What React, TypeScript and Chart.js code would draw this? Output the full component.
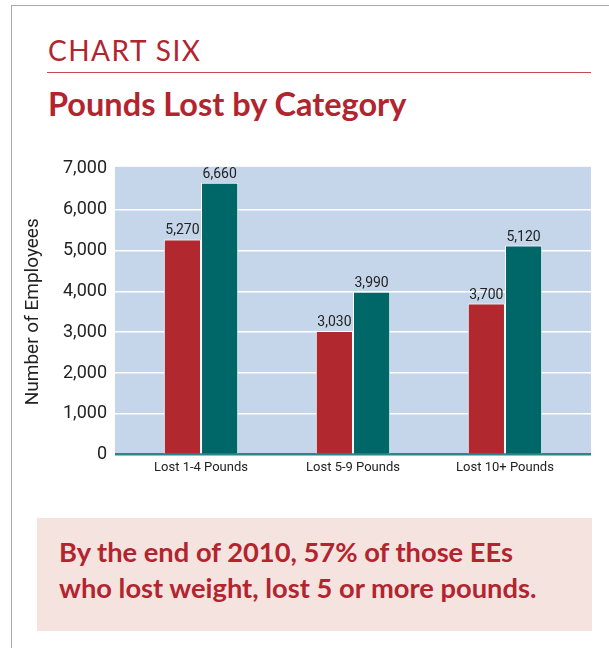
import React, { useEffect, useRef } from "react";
import { Chart, registerables } from "chart.js";

Chart.register(...registerables);

const categories = ["Lost 1-4 Pounds", "Lost 5-9 Pounds", "Lost 10+ Pounds"];
const redValues = [5270, 3030, 3700];
const tealValues = [6660, 3990, 5120];
const yTicks = [0, 1000, 2000, 3000, 4000, 5000, 6000, 7000];

const RED = "#b1282f";
const TEAL = "#006769";
const PLOT_BG = "#c5d6ea";
const TEXT_RED = "#b2252f";

const fmt = (v: number) => v.toLocaleString("en-US");

const bgPlugin = {
  id: "plotBg",
  beforeDraw(chart: any) {
    const { ctx, chartArea } = chart;
    if (!chartArea) return;
    ctx.save();
    ctx.fillStyle = PLOT_BG;
    ctx.fillRect(chartArea.left, chartArea.top - 2, chartArea.right - chartArea.left, chartArea.bottom - chartArea.top + 2);
    ctx.restore();
  },
};

const valueLabelPlugin = {
  id: "valueLabels",
  afterDatasetsDraw(chart: any) {
    const { ctx } = chart;
    ctx.save();
    ctx.font = "14px Roboto";
    ctx.fillStyle = "#222222";
    ctx.textAlign = "center";
    ctx.textBaseline = "alphabetic";
    chart.data.datasets.forEach((ds: any, di: number) => {
      const meta = chart.getDatasetMeta(di);
      meta.data.forEach((el: any, i: number) => {
        const v = ds.data[i].y;
        ctx.fillText(fmt(v), el.x, el.y - 5);
      });
    });
    ctx.restore();
  },
};

function BarChart() {
  const ref = useRef<HTMLCanvasElement | null>(null);
  useEffect(() => {
    if (!ref.current) return;
    const chart = new Chart(ref.current, {
      type: "bar",
      data: {
        datasets: [
          {
            label: "Series A",
            data: redValues.map((v, i) => ({ x: i, y: v })),
            backgroundColor: RED,
            borderColor: "#ffffff",
            borderWidth: 1,
          },
          {
            label: "Series B",
            data: tealValues.map((v, i) => ({ x: i, y: v })),
            backgroundColor: TEAL,
            borderColor: "#ffffff",
            borderWidth: 1,
          },
        ],
      },
      options: {
        animation: false,
        responsive: false,
        maintainAspectRatio: false,
        layout: { padding: { left: 0, right: 18, top: 14.7, bottom: 5.3 } },
        plugins: { legend: { display: false }, tooltip: { enabled: false } },
        datasets: { bar: { categoryPercentage: 0.49, barPercentage: 1.0 } },
        scales: {
          x: {
            type: "linear",
            offset: false,
            min: -0.566,
            max: 2.566,
            afterBuildTicks: (s: any) => {
              s.ticks = categories.map((_, i) => ({ value: i }));
            },
            afterFit: (s: any) => {
              s.height = 30;
            },
            grid: { display: false, drawTicks: false },
            border: { display: false },
            ticks: {
              padding: 5,
              autoSkip: false,
              maxRotation: 0,
              color: "#222222",
              font: { family: "Roboto", size: 13 },
              callback: (v: any) => categories[Math.round(Number(v))] ?? "",
            },
          },
          y: {
            min: 0,
            max: 7000,
            afterBuildTicks: (s: any) => {
              s.ticks = yTicks.map((v) => ({ value: v }));
            },
            afterFit: (s: any) => {
              s.width = 115;
            },
            grid: {
              drawTicks: false,
              color: (c: any) =>
                c.tick && c.tick.value === 0 ? "#2b8589" : c.tick && c.tick.value === 7000 ? "rgba(0,0,0,0)" : "#ffffff",
              lineWidth: (c: any) => (c.tick && c.tick.value === 0 ? 2.5 : 1.5),
            },
            border: { display: false },
            ticks: {
              padding: 8,
              color: "#222222",
              font: { family: "Roboto", size: 18 },
              callback: (v: any) => fmt(Number(v)),
            },
            title: {
              display: true,
              text: "Number of Employees",
              color: "#222222",
              font: { family: "Roboto", size: 19, lineHeight: 1 },
              padding: { top: 24, bottom: 0 },
            },
          },
        },
      },
      plugins: [bgPlugin, valueLabelPlugin],
    } as any);
    return () => chart.destroy();
  }, []);
  return <canvas ref={ref} width={609} height={340} style={{ position: "absolute", left: 0, top: 150, width: 609, height: 340 }} />;
}

export default function App() {
  return (
    <div style={{ position: "absolute", left: 0, top: 0, width: 609, height: 648, background: "#ffffff", overflow: "hidden" }}>
      <div style={{ position: "absolute", left: 11, top: 5, width: 598, height: 643, borderTop: "1px solid #a9a9a9", borderLeft: "1px solid #a9a9a9", boxSizing: "border-box" }} />
      <div style={{ position: "absolute", left: 48, top: 36, fontFamily: "Lato", fontWeight: 400, fontSize: 28, lineHeight: "28px", letterSpacing: 1.5, color: TEXT_RED, whiteSpace: "nowrap" }}>CHART SIX</div>
      <div style={{ position: "absolute", left: 47, top: 72, width: 544, height: 1, background: "#c24a53" }} />
      <div style={{ position: "absolute", left: 48, top: 86.5, fontFamily: "Lato", fontWeight: 700, fontSize: 32.5, lineHeight: "33px", color: TEXT_RED, whiteSpace: "nowrap" }}>Pounds Lost by Category</div>
      <BarChart />
      <div style={{ position: "absolute", left: 37, top: 518, width: 555, height: 113, background: "#f5e3df" }} />
      <div style={{ position: "absolute", left: 59, top: 534, fontFamily: "Lato", fontWeight: 700, fontSize: 27.3, lineHeight: "36px", color: TEXT_RED, whiteSpace: "nowrap" }}>
        <div>By the end of 2010, 57% of those EEs</div>
        <div>who lost weight, lost 5 or more pounds.</div>
      </div>
    </div>
  );
}
